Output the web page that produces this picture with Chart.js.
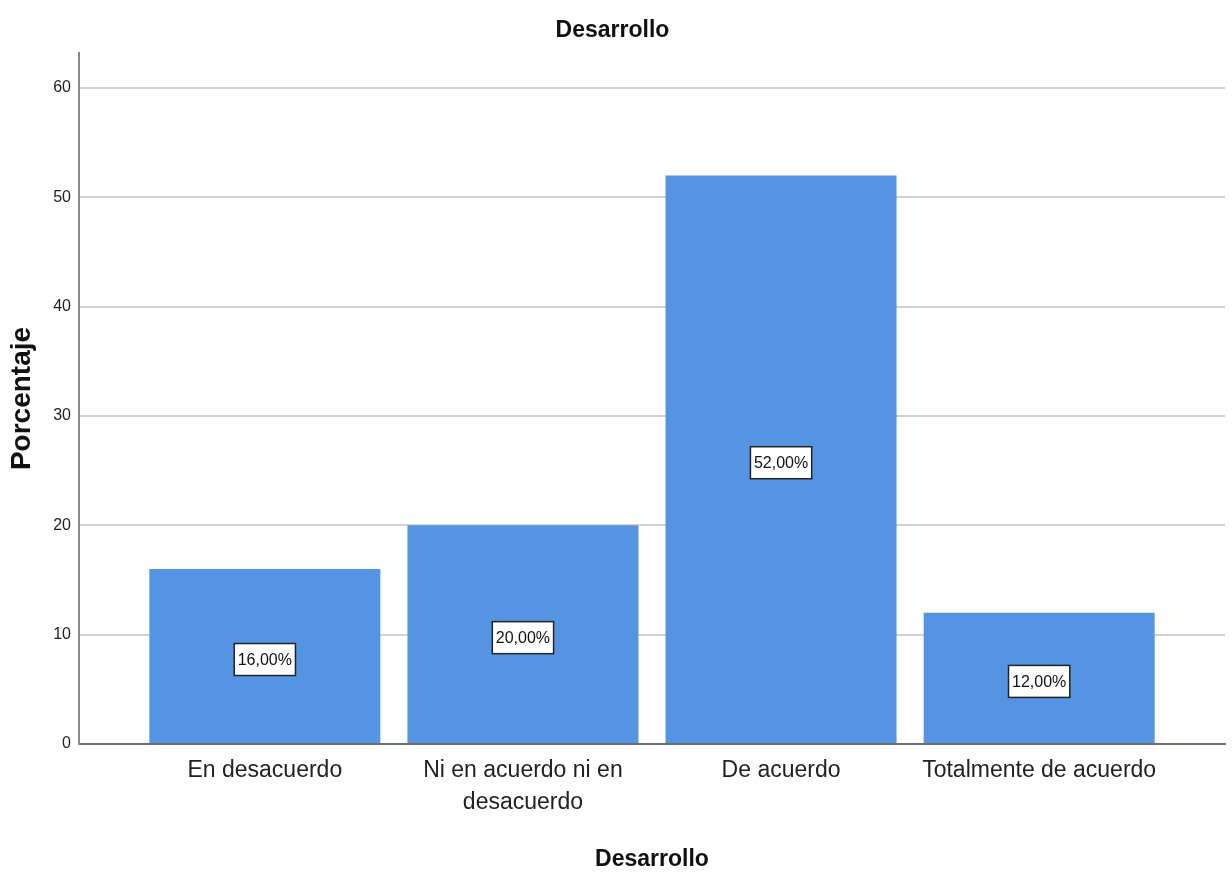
<!DOCTYPE html>
<html>
<head>
<meta charset="utf-8">
<script src="https://cdn.jsdelivr.net/npm/chart.js@4/dist/chart.umd.min.js"></script>
<style>
  html, body { margin: 0; padding: 0; background: #ffffff; }
  #wrap { width: 1232px; height: 873px; position: relative; }
</style>
</head>
<body>
<div id="wrap"><canvas id="c"></canvas></div>
<script>
// ---- data ----
const chartTitle = 'Desarrollo';
const xAxisTitle = 'Desarrollo';
const yAxisTitle = 'Porcentaje';
const categories = [
  ['En desacuerdo'],
  ['Ni en acuerdo ni en', 'desacuerdo'],
  ['De acuerdo'],
  ['Totalmente de acuerdo']
];
const percentages = [16, 20, 52, 12];
const valueLabels = ['16,00%', '20,00%', '52,00%', '12,00%'];
const yTicks = [0, 10, 20, 30, 40, 50, 60];

const SANS = '"Liberation Sans", Arial, sans-serif';

const points = percentages.map((v, i) => ({ x: i, y: v }));

const boxLabels = {
  id: 'boxLabels',
  afterDatasetsDraw(chart) {
    const ctx = chart.ctx;
    const meta = chart.getDatasetMeta(0);
    const ys = chart.scales.y;
    ctx.save();
    ctx.font = '16px ' + SANS;
    ctx.textAlign = 'center';
    ctx.textBaseline = 'middle';
    meta.data.forEach((el, i) => {
      const cx = el.x;
      const cy = ys.getPixelForValue(percentages[i] / 2) + 3;
      const t = valueLabels[i];
      const w = ctx.measureText(t).width + 7;
      const h = 32;
      ctx.fillStyle = '#ffffff';
      ctx.fillRect(cx - w / 2, cy - h / 2, w, h);
      ctx.strokeStyle = '#222222';
      ctx.lineWidth = 1.5;
      ctx.strokeRect(cx - w / 2, cy - h / 2, w, h);
      ctx.fillStyle = '#111111';
      ctx.fillText(t, cx, cy + 1);
    });
    ctx.restore();
  }
};

new Chart(document.getElementById('c'), {
  type: 'bar',
  data: {
    datasets: [{
      data: points,
      backgroundColor: '#5494e3',
      borderWidth: 0,
      categoryPercentage: 1,
      barPercentage: 0.895
    }]
  },
  options: {
    responsive: true,
    maintainAspectRatio: false,
    animation: false,
    layout: { padding: { left: 0, right: 7, top: 0, bottom: 0 } },
    plugins: {
      legend: { display: false },
      tooltip: { enabled: false },
      title: {
        display: true,
        text: chartTitle,
        color: '#111111',
        font: { family: SANS, size: 23, weight: 'bold' },
        padding: { top: 17, bottom: 8.4 }
      }
    },
    scales: {
      x: {
        type: 'linear',
        offset: false,
        min: -0.72,
        max: 3.72,
        afterBuildTicks(scale) {
          scale.ticks = categories.map((c, i) => ({ value: i }));
        },
        afterFit(scale) { scale.height = 129; },
        grid: { display: false, drawTicks: false },
        border: { display: true, color: '#6e6e6e', width: 2 },
        ticks: {
          autoSkip: false,
          maxRotation: 0,
          padding: 11,
          color: '#222222',
          font: { family: SANS, size: 23, lineHeight: 1.39 },
          callback: (v) => categories[v] || ''
        },
        title: {
          display: true,
          text: xAxisTitle,
          color: '#111111',
          font: { family: SANS, size: 23, weight: 'bold' },
          padding: { top: 0, bottom: 0 }
        }
      },
      y: {
        min: 0,
        max: 63.2,
        afterBuildTicks(scale) {
          scale.ticks = yTicks.map(v => ({ value: v }));
        },
        afterFit(scale) { scale.width = 79; },
        grid: { color: '#d2d2d2', lineWidth: 2, drawTicks: false },
        border: { display: true, color: '#8a8a8a', width: 2 },
        ticks: {
          padding: 8,
          color: '#222222',
          font: { family: SANS, size: 16 }
        },
        title: {
          display: true,
          text: yAxisTitle,
          color: '#111111',
          font: { family: SANS, size: 28, weight: 'bold' },
          padding: { top: 5, bottom: 0 }
        }
      }
    }
  },
  plugins: [boxLabels]
});
</script>
</body>
</html>
